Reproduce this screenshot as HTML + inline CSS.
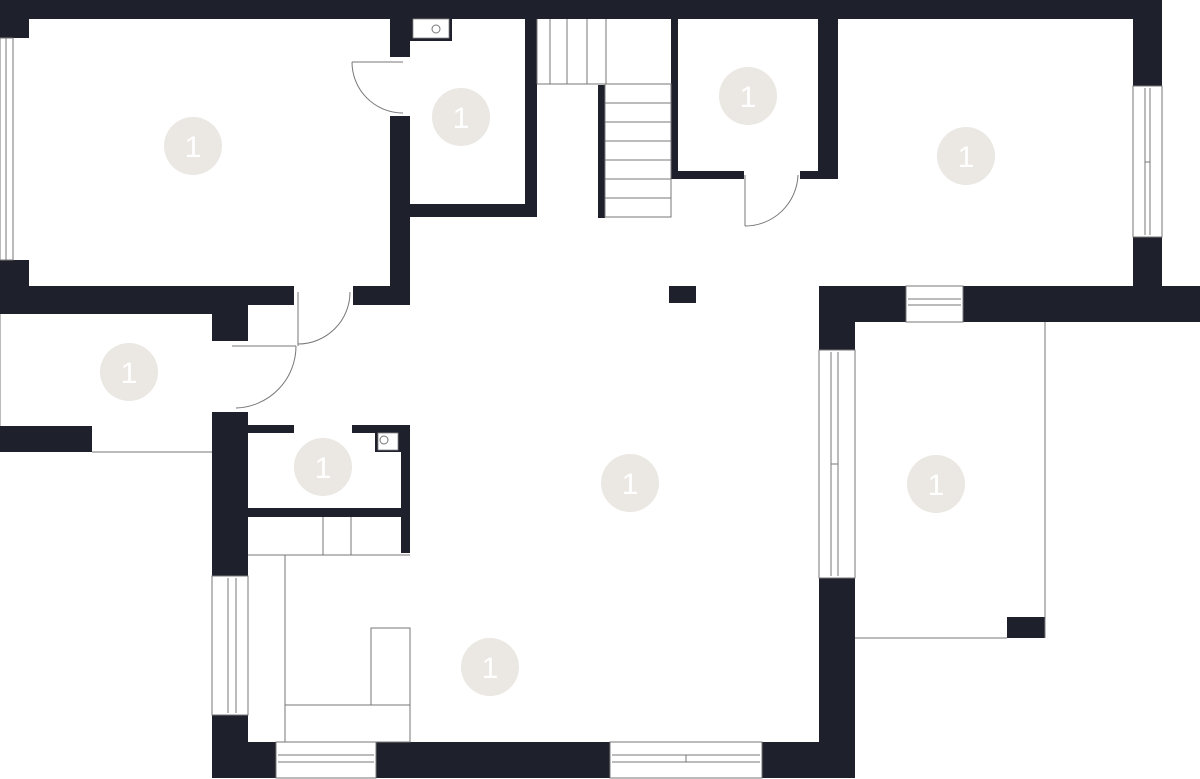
<!DOCTYPE html>
<html><head><meta charset="utf-8"><style>
html,body{margin:0;padding:0;background:#fff;}
svg{display:block;}
text{font-family:"Liberation Sans",sans-serif;font-size:30px;fill:#fff;text-anchor:middle;}
</style></head><body>
<svg width="1200" height="779" viewBox="0 0 1200 779" xmlns="http://www.w3.org/2000/svg">
<g fill="#1e202c">
<rect x="0" y="0" width="1162" height="19"/>
<rect x="0" y="0" width="29" height="38"/>
<rect x="0" y="260" width="29" height="54"/>
<rect x="0" y="286" width="294" height="19"/>
<rect x="0" y="286" width="248" height="28"/>
<rect x="212" y="305" width="36" height="36"/>
<rect x="353" y="286" width="57" height="19"/>
<rect x="390" y="116" width="20" height="189"/>
<rect x="390" y="19" width="20" height="38"/>
<rect x="410" y="204" width="127" height="13"/>
<rect x="525" y="19" width="12" height="198"/>
<rect x="598" y="85" width="7" height="133"/>
<rect x="671" y="19" width="7" height="160"/>
<rect x="671" y="171" width="73" height="8"/>
<rect x="800" y="171" width="38" height="8"/>
<rect x="818" y="19" width="20" height="160"/>
<rect x="1133" y="0" width="29" height="86"/>
<rect x="1133" y="237" width="29" height="60"/>
<rect x="819" y="286" width="87" height="36"/>
<rect x="963" y="286" width="237" height="36"/>
<rect x="819" y="286" width="36" height="64"/>
<rect x="669" y="286" width="27" height="17"/>
<rect x="0" y="426" width="92" height="26"/>
<rect x="212" y="412" width="36" height="164"/>
<rect x="212" y="715" width="36" height="63"/>
<rect x="212" y="742" width="64" height="36"/>
<rect x="376" y="742" width="234" height="36"/>
<rect x="762" y="742" width="93" height="36"/>
<rect x="819" y="578" width="36" height="200"/>
<rect x="248" y="425" width="46" height="8"/>
<rect x="352" y="425" width="58" height="8"/>
<rect x="401" y="425" width="9" height="128"/>
<rect x="248" y="508" width="162" height="9"/>
<rect x="1007" y="617" width="38" height="21"/>
<rect x="410" y="19" width="42" height="22"/>
<rect x="375" y="433" width="26" height="19"/>
</g>
<g fill="#fff" stroke="#888" stroke-width="0.8">
<rect x="413" y="19" width="36" height="19"/>
<rect x="378" y="433" width="20" height="17"/>
</g>
<g fill="none" stroke="#777" stroke-width="1">
<circle cx="436" cy="29" r="4"/>
<circle cx="384" cy="440" r="4"/>
<rect x="0" y="38" width="13" height="222"/>
<line x1="6" y1="38" x2="6" y2="260"/>
<rect x="1133" y="86" width="29" height="151"/>
<line x1="1145" y1="88" x2="1145" y2="235"/><line x1="1150" y1="88" x2="1150" y2="235"/>
<line x1="1145" y1="162" x2="1150" y2="162"/>
<rect x="906" y="286" width="57" height="36"/>
<line x1="908" y1="299" x2="961" y2="299"/><line x1="908" y1="305" x2="961" y2="305"/>
<rect x="819" y="350" width="36" height="228"/>
<line x1="831" y1="352" x2="831" y2="576"/><line x1="838" y1="352" x2="838" y2="576"/>
<line x1="831" y1="464" x2="838" y2="464"/>
<rect x="212" y="576" width="36" height="139"/>
<line x1="228" y1="578" x2="228" y2="713"/><line x1="236" y1="578" x2="236" y2="713"/>
<rect x="276" y="742" width="100" height="36"/>
<line x1="278" y1="755" x2="374" y2="755"/><line x1="278" y1="762" x2="374" y2="762"/>
<rect x="610" y="742" width="152" height="36"/>
<line x1="612" y1="755" x2="760" y2="755"/><line x1="612" y1="762" x2="760" y2="762"/>
<line x1="686" y1="755" x2="686" y2="762"/>
<line x1="537" y1="19" x2="537" y2="84"/>
<line x1="550" y1="19" x2="550" y2="84"/><line x1="567" y1="19" x2="567" y2="84"/><line x1="587" y1="19" x2="587" y2="84"/>
<line x1="606" y1="19" x2="606" y2="84"/>
<line x1="537" y1="84" x2="671" y2="84"/>
<rect x="605" y="84" width="66" height="133"/>
<line x1="605" y1="103" x2="671" y2="103"/><line x1="605" y1="122" x2="671" y2="122"/>
<line x1="605" y1="141" x2="671" y2="141"/><line x1="605" y1="160" x2="671" y2="160"/>
<line x1="605" y1="179" x2="671" y2="179"/><line x1="605" y1="198" x2="671" y2="198"/>
<line x1="352" y1="62" x2="403" y2="62"/>
<path d="M352 62 A51 51 0 0 0 403 113"/>
<line x1="298" y1="292" x2="298" y2="346"/>
<path d="M350 292 A52 52 0 0 1 298 344"/>
<line x1="232" y1="346" x2="296" y2="346"/>
<path d="M296 346 A62 62 0 0 1 236 408"/>
<line x1="745" y1="175" x2="745" y2="226"/>
<path d="M745 226 A53 53 0 0 0 798 175"/>
<line x1="0" y1="314" x2="0" y2="426"/>
<line x1="92" y1="452" x2="212" y2="452"/>
<line x1="1045" y1="322" x2="1045" y2="638"/>
<line x1="855" y1="638" x2="1007" y2="638"/>
<line x1="248" y1="555" x2="410" y2="555"/>
<line x1="323" y1="517" x2="323" y2="555"/><line x1="351" y1="517" x2="351" y2="555"/>
<line x1="285" y1="555" x2="285" y2="742"/>
<rect x="371" y="628" width="39" height="77"/>
<rect x="285" y="705" width="125" height="37"/>
</g>
<g fill="#ebe8e3">
<ellipse cx="193" cy="146" rx="29" ry="29"/>
<ellipse cx="461" cy="117" rx="29" ry="29"/>
<ellipse cx="748" cy="96" rx="29" ry="29"/>
<ellipse cx="966" cy="156" rx="29" ry="29"/>
<ellipse cx="129" cy="372" rx="29" ry="29"/>
<ellipse cx="323" cy="467" rx="29" ry="29"/>
<ellipse cx="630" cy="483" rx="29" ry="29"/>
<ellipse cx="936" cy="484" rx="29" ry="29"/>
<ellipse cx="490" cy="667" rx="29" ry="29"/>
</g>
<text x="193" y="157">1</text>
<text x="461" y="128">1</text>
<text x="748" y="107">1</text>
<text x="966" y="167">1</text>
<text x="129" y="383">1</text>
<text x="323" y="478">1</text>
<text x="630" y="494">1</text>
<text x="936" y="495">1</text>
<text x="490" y="678">1</text>
</svg>
</body></html>
